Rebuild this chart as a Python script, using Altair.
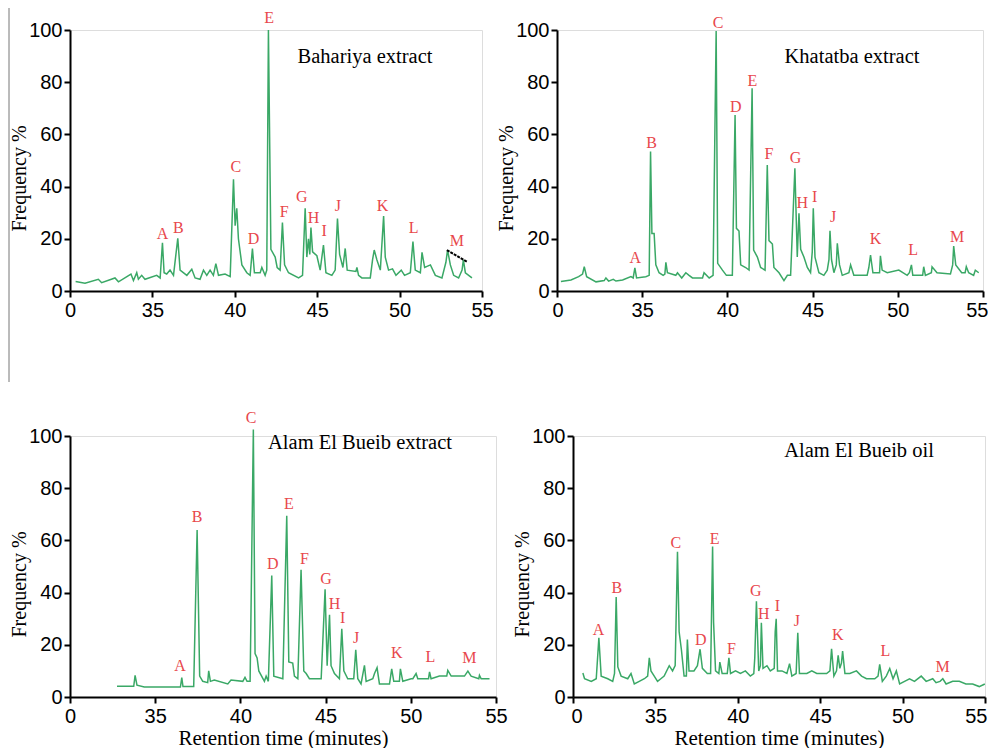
import altair as alt
import pandas as pd

# ---------------- data ----------------
# Retention times are in "display minutes": the first tick (30) is labelled "0" as in the original figure.
X_TICKS = [30, 35, 40, 45, 50, 55]
Y_TICKS = [0, 20, 40, 60, 80, 100]
PEAK_LETTERS = ["A", "B", "C", "D", "E", "F", "G", "H", "I", "J", "K", "L", "M"]

# Bahariya extract
bah_t = [30.34, 30.91, 31.72, 31.92, 32.73, 32.94, 33.70, 33.85, 34.05, 34.15, 34.35, 34.55, 35.26, 35.47,
         35.61, 35.71, 35.87, 36.07, 36.28, 36.54, 36.68, 37.09, 37.39, 37.59, 37.89, 38.10, 38.30, 38.50,
         38.70, 38.85, 39.01, 39.41, 39.72, 39.92, 40.02, 40.12, 40.22, 40.43, 40.73, 40.93, 41.07, 41.19,
         41.54, 41.64, 41.84, 41.94, 42.04, 42.19, 42.45, 42.57, 42.75, 42.89, 43.02, 43.26, 43.87, 44.11,
         44.27, 44.37, 44.47, 44.55, 44.62, 44.72, 44.98, 45.18, 45.38, 45.53, 45.89, 46.09, 46.23, 46.36,
         46.56, 46.70, 46.82, 47.35, 47.41, 47.51, 47.71, 48.22, 48.36, 48.46, 48.62, 48.83, 49.03, 49.13,
         49.33, 49.57, 49.78, 50.10, 50.30, 50.65, 50.81, 50.95, 51.26, 51.36, 51.52, 51.87, 52.17, 52.57,
         52.81, 52.91, 53.08, 53.28, 53.58, 53.79, 53.87, 53.99, 54.39]
bah_v = [3.6, 3.0, 4.5, 3.2, 5.0, 3.5, 6.5, 4.0, 7.0, 4.5, 6.0, 4.5, 6.0, 5.0,
         18.5, 7.0, 6.5, 8.0, 6.0, 20.2, 8.0, 6.0, 8.3, 5.0, 4.5, 8.0, 6.0, 8.0,
         6.0, 10.5, 6.0, 6.5, 5.5, 42.8, 25.0, 31.7, 20.0, 10.0, 7.0, 6.0, 16.3, 7.0,
         7.0, 9.0, 6.0, 8.0, 100.0, 16.0, 13.0, 9.0, 8.0, 26.2, 10.0, 7.0, 5.0, 6.0,
         31.7, 13.0, 20.0, 14.0, 24.3, 15.0, 13.5, 8.0, 17.6, 7.0, 6.0, 8.0, 27.8, 14.0,
         9.0, 16.3, 8.0, 7.5, 9.0, 6.0, 5.0, 5.0, 12.0, 15.7, 12.0, 8.0, 28.7, 13.0,
         8.0, 8.5, 6.0, 8.0, 6.0, 7.0, 18.9, 8.0, 7.0, 14.8, 9.0, 10.0, 6.0, 5.0,
         11.0, 15.7, 10.0, 6.0, 5.0, 8.0, 11.9, 7.0, 5.0]
bah_lab_t = [35.61, 36.58, 40.06, 41.13, 42.09, 43.00, 44.07, 44.78, 45.42, 46.26, 48.97, 50.85, 53.48]
bah_lab_v = [22.0, 24.0, 47.6, 20.0, 104.5, 30.4, 35.9, 27.8, 23.1, 32.6, 32.6, 24.3, 19.3]
bah_slash_t = [52.87, 54.09]
bah_slash_v = [15.7, 11.2]

# Khatatba extract
kha_t = [30.23, 30.82, 31.27, 31.50, 31.60, 31.74, 32.29, 32.77, 32.87, 33.03, 33.30, 33.46, 33.85, 34.34,
         34.47, 34.57, 34.67, 35.21, 35.41, 35.49, 35.57, 35.70, 35.80, 35.99, 36.23, 36.33, 36.39, 36.48,
         36.97, 37.07, 37.32, 37.56, 37.75, 37.95, 38.54, 38.63, 38.93, 39.16, 39.34, 39.43, 39.71, 39.94,
         40.29, 40.45, 40.53, 40.68, 40.78, 41.07, 41.27, 41.45, 41.54, 41.76, 41.95, 42.21, 42.34, 42.44,
         42.64, 42.73, 43.03, 43.32, 43.52, 43.71, 43.96, 44.10, 44.20, 44.30, 44.49, 44.69, 44.88, 44.98,
         45.04, 45.14, 45.37, 45.66, 45.86, 45.96, 46.02, 46.11, 46.25, 46.39, 46.45, 46.58, 46.74, 47.13,
         47.23, 47.42, 48.20, 48.30, 48.40, 48.54, 48.93, 48.98, 49.08, 49.38, 50.06, 50.55, 50.68, 50.80,
         50.88, 51.46, 51.52, 51.62, 51.97, 52.01, 52.30, 53.09, 53.22, 53.28, 53.40, 53.75, 53.95, 54.02,
         54.16, 54.45, 54.55, 54.75]
kha_v = [3.6, 4.2, 5.5, 6.5, 9.3, 5.5, 3.5, 4.0, 5.0, 3.8, 4.5, 3.8, 4.2, 5.5,
         5.0, 8.9, 5.0, 5.5, 6.0, 53.4, 22.0, 22.0, 10.0, 7.0, 6.0, 6.5, 11.0, 7.0,
         6.0, 7.0, 5.0, 7.0, 6.0, 5.0, 5.0, 7.0, 5.0, 6.0, 99.6, 10.6, 8.0, 6.0,
         6.0, 67.4, 24.0, 23.0, 10.0, 9.0, 8.0, 77.7, 15.7, 13.0, 9.0, 8.0, 48.3, 19.3,
         18.0, 9.0, 7.0, 4.0, 6.0, 6.0, 47.0, 13.0, 29.8, 16.0, 13.0, 9.0, 7.0, 15.0,
         31.7, 13.0, 7.0, 6.0, 8.0, 12.0, 23.1, 12.0, 7.0, 10.0, 18.3, 10.0, 6.0, 7.0,
         10.0, 6.0, 6.0, 9.0, 13.8, 7.0, 7.0, 13.5, 8.0, 7.0, 8.0, 6.0, 7.0, 10.0,
         6.0, 6.0, 9.3, 6.0, 7.0, 9.3, 7.0, 6.5, 10.0, 17.2, 10.0, 7.0, 7.0, 9.3,
         7.0, 6.0, 8.0, 7.0]
kha_lab_t = [34.59, 35.55, 39.45, 40.49, 41.46, 42.44, 44.00, 44.39, 45.12, 46.21, 48.69, 50.90, 53.48]
kha_lab_v = [12.5, 56.8, 102.8, 70.4, 80.6, 52.5, 50.8, 33.6, 36.1, 28.2, 19.8, 15.7, 20.8]

# Alam El Bueib extract
aex_t = [32.76, 33.74, 33.82, 33.93, 34.36, 36.48, 36.56, 36.63, 37.26, 37.46, 37.61, 37.79, 38.08, 38.14,
         38.24, 38.47, 39.26, 39.45, 40.14, 40.27, 40.39, 40.57, 40.76, 40.86, 40.98, 41.08, 41.41, 41.51,
         41.64, 41.84, 41.96, 42.49, 42.72, 42.84, 43.07, 43.17, 43.37, 43.56, 43.72, 43.86, 44.05, 44.74,
         44.97, 45.09, 45.23, 45.32, 45.52, 45.81, 45.95, 46.07, 46.30, 46.65, 46.77, 46.89, 47.08, 47.28,
         47.38, 47.77, 47.87, 48.02, 48.16, 48.75, 48.88, 49.00, 49.33, 49.39, 49.53, 50.02, 50.12, 50.31,
         50.41, 50.80, 51.04, 51.10, 51.19, 51.68, 52.11, 52.17, 52.37, 53.15, 53.35, 53.54, 53.99, 54.03,
         54.13, 54.62]
aex_v = [4.1, 4.1, 8.3, 4.5, 3.8, 3.8, 7.4, 4.0, 4.0, 64.0, 8.0, 6.0, 5.5, 10.0,
         6.0, 6.5, 5.0, 6.5, 6.0, 7.5, 6.0, 6.0, 102.5, 16.6, 15.0, 10.0, 6.0, 8.0,
         6.0, 46.5, 8.0, 7.0, 69.4, 13.4, 13.0, 8.0, 7.0, 48.7, 10.0, 9.0, 7.0, 7.0,
         41.3, 12.0, 31.5, 12.0, 9.0, 7.0, 26.1, 10.0, 7.0, 7.0, 18.1, 7.0, 5.0, 12.1,
         6.0, 7.0, 9.0, 11.2, 5.0, 5.0, 10.8, 6.0, 6.0, 10.8, 6.0, 7.0, 7.0, 9.0,
         7.0, 7.0, 7.0, 9.6, 7.0, 8.0, 8.0, 10.2, 8.0, 8.0, 9.9, 8.0, 7.0, 8.3,
         7.0, 7.0]
aex_lab_t = [36.46, 37.46, 40.63, 41.90, 42.84, 43.76, 45.03, 45.52, 46.00, 46.79, 49.18, 51.15, 53.44]
aex_lab_v = [11.7, 68.8, 107.0, 51.0, 73.9, 52.9, 45.2, 35.7, 30.3, 22.7, 16.8, 15.5, 14.9]

# Alam El Bueib oil
oil_t = [30.60, 30.70, 31.11, 31.41, 31.57, 31.71, 32.11, 32.41, 32.52, 32.62, 32.72, 32.92, 33.32, 33.52,
         33.72, 34.02, 34.33, 34.53, 34.63, 34.73, 34.93, 35.13, 35.33, 35.53, 35.84, 36.04, 36.20, 36.34,
         36.44, 36.58, 36.74, 36.88, 36.94, 37.04, 37.34, 37.55, 37.71, 37.85, 38.15, 38.35, 38.47, 38.53,
         38.65, 38.85, 38.91, 39.05, 39.36, 39.46, 39.56, 39.86, 40.16, 40.46, 40.76, 40.97, 41.03, 41.13,
         41.27, 41.37, 41.43, 41.53, 41.77, 41.97, 42.21, 42.27, 42.33, 42.41, 42.68, 42.98, 43.14, 43.28,
         43.54, 43.64, 43.74, 44.19, 44.49, 44.79, 45.39, 45.59, 45.69, 45.83, 45.99, 46.09, 46.19, 46.29,
         46.36, 46.50, 46.80, 47.20, 47.51, 47.81, 48.31, 48.51, 48.61, 48.77, 49.01, 49.22, 49.42, 49.62,
         49.82, 50.12, 50.42, 50.72, 51.13, 51.43, 51.83, 52.03, 52.27, 52.44, 52.64, 53.04, 53.44, 53.84,
         54.25, 54.65, 54.99]
oil_v = [9.2, 7.0, 6.0, 7.0, 22.7, 8.0, 7.0, 6.0, 9.0, 38.3, 11.5, 8.0, 7.0, 9.0,
         5.0, 6.0, 7.0, 8.0, 15.0, 10.0, 8.0, 6.0, 7.0, 8.0, 12.0, 10.0, 12.0, 55.6,
         25.0, 18.0, 8.0, 8.0, 22.0, 10.0, 10.0, 12.0, 18.3, 11.0, 9.0, 9.0, 57.7, 28.7,
         10.0, 9.0, 13.4, 9.0, 9.0, 15.0, 9.0, 10.0, 9.0, 10.0, 8.0, 9.0, 15.0, 36.7,
         10.0, 12.0, 28.4, 11.0, 12.0, 10.0, 11.0, 25.0, 30.0, 10.0, 10.0, 9.0, 12.8, 8.0,
         9.0, 24.6, 9.0, 9.0, 10.0, 9.0, 9.0, 10.0, 18.5, 8.0, 10.0, 16.0, 11.0, 13.0,
         17.6, 9.0, 9.0, 10.0, 8.0, 7.0, 7.0, 8.0, 12.5, 6.0, 8.0, 10.9, 7.0, 10.0,
         5.0, 6.0, 7.0, 6.0, 8.0, 6.0, 7.0, 5.5, 6.0, 7.0, 5.0, 6.0, 6.0, 5.0,
         5.0, 4.0, 5.0]
oil_lab_t = [31.55, 32.66, 36.24, 37.75, 38.59, 39.62, 41.09, 41.57, 42.41, 43.58, 46.06, 48.95, 52.43]
oil_lab_v = [25.8, 41.9, 59.1, 21.7, 60.7, 18.5, 40.5, 31.9, 34.7, 29.1, 23.6, 17.5, 11.5]

PANEL_TITLES = ["Bahariya extract", "Khatatba extract", "Alam El Bueib extract", "Alam El Bueib oil"]
X_TITLE = "Retention time (minutes)"
Y_TITLE = "Frequency %"

# ---------------- styles ----------------
LINE_COLOR = "#3aa866"
LETTER_COLOR = "#e8474c"
SERIF = "Liberation Serif"
SANS = "Liberation Sans"
H = 261


def panel(trace_t, trace_v, lab_t, lab_v, title, width, title_x, title_y, xtitle=None, extra=None,
          flush_offset=None):
    line_df = pd.DataFrame({"t": trace_t, "v": trace_v})
    lab_df = pd.DataFrame({"t": lab_t, "v": lab_v, "letter": PEAK_LETTERS})
    ttl_df = pd.DataFrame({"txt": [title]})

    flush_kw = {"labelFlush": False}
    if flush_offset is not None:
        flush_kw = {"labelFlush": True, "labelFlushOffset": flush_offset}
    x_axis = alt.Axis(values=X_TICKS, labelExpr="datum.value == 30 ? '0' : datum.label",
                      grid=False, labelFont=SANS, labelFontSize=20, labelColor="black",
                      tickSize=6, tickWidth=2, tickColor="black", domainColor="black", domainWidth=2,
                      labelPadding=3, labelOverlap=False,
                      title=xtitle if xtitle else "", titleFont=SERIF, titleFontSize=21,
                      titleFontWeight="normal", titleColor="black", titlePadding=1, **flush_kw)
    y_axis = alt.Axis(values=Y_TICKS, grid=False, labelFont=SANS, labelFontSize=20, labelColor="black",
                      tickSize=6, tickWidth=2, tickColor="black", domainColor="black", domainWidth=2,
                      labelPadding=2, labelFlush=False, labelOverlap=False,
                      title=Y_TITLE, titleFont=SERIF, titleFontSize=20, titleFontWeight="normal",
                      titleColor="black", titleX=-51, titleY=148, titleBaseline="middle")
    xs = alt.Scale(domain=[30, 55], nice=False, zero=False)
    ys = alt.Scale(domain=[0, 100], nice=False)

    line = alt.Chart(line_df).mark_line(color=LINE_COLOR, strokeWidth=1.5).encode(
        x=alt.X("t:Q", scale=xs, axis=x_axis),
        y=alt.Y("v:Q", scale=ys, axis=y_axis),
        order="t:Q",
    )
    letters = alt.Chart(lab_df).mark_text(color=LETTER_COLOR, font=SERIF, fontSize=16,
                                          align="center", baseline="middle").encode(
        x="t:Q", y="v:Q", text="letter:N")
    ttl = alt.Chart(ttl_df).mark_text(font=SERIF, fontSize=20.5, color="black",
                                      align="center", baseline="middle").encode(
        x=alt.value(title_x), y=alt.value(title_y), text="txt:N")
    layers = [line, letters, ttl]
    if extra:
        layers += extra
    return alt.layer(*layers).properties(width=width, height=H)


slash_df = pd.DataFrame({"t": bah_slash_t, "v": bah_slash_v})
slash = alt.Chart(slash_df).mark_line(color="black", strokeWidth=2, strokeDash=[3, 1]).encode(
    x="t:Q", y="v:Q")
edge = alt.Chart(pd.DataFrame({"k": [0]})).mark_rule(color="#777777", strokeWidth=1).encode(
    x=alt.value(-61), y=alt.value(-22), y2=alt.value(352))

p1 = panel(bah_t, bah_v, bah_lab_t, bah_lab_v, PANEL_TITLES[0], 412, 295, 27, extra=[slash, edge])
p2 = panel(kha_t, kha_v, kha_lab_t, kha_lab_v, PANEL_TITLES[1], 426, 295, 27, flush_offset=5)
p3 = panel(aex_t, aex_v, aex_lab_t, aex_lab_v, PANEL_TITLES[2], 426, 290, 7, xtitle=X_TITLE)
p4 = panel(oil_t, oil_v, oil_lab_t, oil_lab_v, PANEL_TITLES[3], 412, 286, 15, xtitle=X_TITLE,
           flush_offset=2)

row1 = alt.hconcat(p1, p2, spacing=1)
row2 = alt.hconcat(p3, p4, spacing=3)
chart = alt.vconcat(row1, row2, spacing=26).properties(
    autosize=alt.AutoSizeParams(type="none"),
    padding={"left": 62, "top": 22, "right": 918, "bottom": 718},
).configure_view(stroke=None).configure(background="white")

chart.save("out.html", embed_options={"renderer": "svg", "actions": False})
